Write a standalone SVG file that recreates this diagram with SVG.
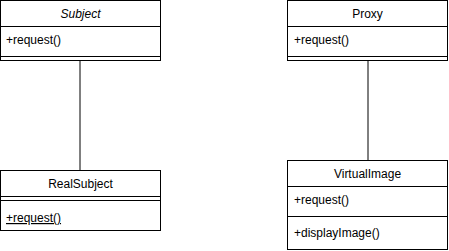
<svg xmlns="http://www.w3.org/2000/svg" width="449" height="251" viewBox="0 0 449 251">
<style>
.box{fill:#fff;stroke:#000;stroke-width:1}
.ln{stroke:#000;stroke-width:1;fill:none}
text{font-family:"Liberation Sans",Arial,sans-serif;font-size:12px;fill:#000}
.t{text-anchor:middle}
</style>
<rect width="449" height="251" fill="#fff"/>
<g id="connectors">
<line class="ln" x1="80" y1="60.5" x2="80" y2="170.5"/>
<line class="ln" x1="368" y1="60.5" x2="368" y2="160.5"/>
</g>
<g id="Subject">
<rect class="box" x="0.5" y="0.5" width="160" height="60"/>
<line class="ln" x1="0.5" y1="26.5" x2="160.5" y2="26.5"/>
<line class="ln" x1="0.5" y1="56.5" x2="160.5" y2="56.5"/>
<text class="t" x="80.5" y="18" font-style="italic">Subject</text>
<text x="6" y="44">+request()</text>
</g>
<g id="RealSubject">
<rect class="box" x="0.5" y="170.5" width="160" height="60"/>
<line class="ln" x1="0.5" y1="196.5" x2="160.5" y2="196.5"/>
<line class="ln" x1="0.5" y1="200.5" x2="160.5" y2="200.5"/>
<text class="t" x="80.5" y="188">RealSubject</text>
<text x="6" y="222" text-decoration="underline">+request()</text>
</g>
<g id="Proxy">
<rect class="box" x="287.5" y="0.5" width="160" height="60"/>
<line class="ln" x1="287.5" y1="26.5" x2="447.5" y2="26.5"/>
<line class="ln" x1="287.5" y1="56.5" x2="447.5" y2="56.5"/>
<text class="t" x="367.5" y="18">Proxy</text>
<text x="294" y="44">+request()</text>
</g>
<g id="VirtualImage">
<rect class="box" x="287.5" y="160.5" width="160" height="89"/>
<line class="ln" x1="287.5" y1="186.5" x2="447.5" y2="186.5"/>
<line class="ln" x1="287.5" y1="216.5" x2="447.5" y2="216.5"/>
<text class="t" x="367.5" y="178">VirtualImage</text>
<text x="294" y="204">+request()</text>
<text x="294" y="237">+displayImage()</text>
</g>
</svg>
